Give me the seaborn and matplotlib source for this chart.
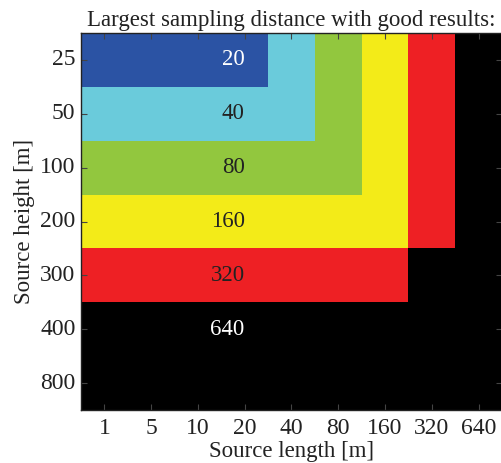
import numpy as np
import pandas as pd
import matplotlib
matplotlib.use("Agg")
import matplotlib.pyplot as plt
import seaborn as sns
from matplotlib.colors import ListedColormap

source_length = [1, 5, 10, 20, 40, 80, 160, 320, 640]
source_height = [25, 50, 100, 200, 300, 400, 800]
sampling_levels = [20, 40, 80, 160, 320, 640]
level_colors = ["#2B53A4", "#6ACBDB", "#92C73E", "#F3EB18", "#EE2024", "#000000"]
label_colors = ["white", "#222222", "#222222", "#222222", "#222222", "white"]

row_25 = [20, 20, 20, 20, 40, 80, 160, 320, 640]
row_50 = [40, 40, 40, 40, 40, 80, 160, 320, 640]
row_100 = [80, 80, 80, 80, 80, 80, 160, 320, 640]
row_200 = [160, 160, 160, 160, 160, 160, 160, 320, 640]
row_300 = [320, 320, 320, 320, 320, 320, 320, 640, 640]
row_400 = [640, 640, 640, 640, 640, 640, 640, 640, 640]
row_800 = [640, 640, 640, 640, 640, 640, 640, 640, 640]

values = np.array([row_25, row_50, row_100, row_200, row_300, row_400, row_800])
level_index = np.vectorize(lambda v: sampling_levels.index(v))(values)
df = pd.DataFrame(level_index, index=source_height, columns=source_length)

sns.set_style("white")
plt.rcParams["font.family"] = ["Liberation Serif", "DejaVu Serif"]

fig = plt.figure(figsize=(5.02, 4.63), dpi=100)
ax = fig.add_axes([81 / 502, 1 - 410 / 463, 421 / 502, 377 / 463])

sns.heatmap(df, ax=ax, cmap=ListedColormap(level_colors), vmin=-0.5, vmax=5.5,
            cbar=False, linewidths=0)
ax.set_axisbelow(False)

for i, lvl in enumerate(sampling_levels):
    ax.text(3.5, i + 0.5, str(lvl), ha="right", va="center", fontsize=16.5,
            color=label_colors[i])

for s in ax.spines.values():
    s.set_visible(True)
    s.set_color("#222222")
    s.set_linewidth(1.0)
    s.set_zorder(5)

ax.tick_params(axis="both", direction="in", length=4, width=0.8, color="#444444",
               labelsize=17, labelcolor="#222222", top=True, right=True,
               bottom=True, left=True)
ax.tick_params(axis="x", pad=6)
ax.tick_params(axis="y", pad=4)
ax.set_xticklabels([str(v) for v in source_length], rotation=0)
ax.set_yticklabels([str(v) for v in source_height], rotation=0)

ax.set_title("Largest sampling distance with good results:", fontsize=16.5,
             color="#222222", pad=5)
ax.set_xlabel("Source length [m]", fontsize=16.5, color="#222222", labelpad=1)
ax.set_ylabel("Source height [m]", fontsize=16.5, color="#222222", labelpad=4)

fig.savefig("out.png", dpi=100)
